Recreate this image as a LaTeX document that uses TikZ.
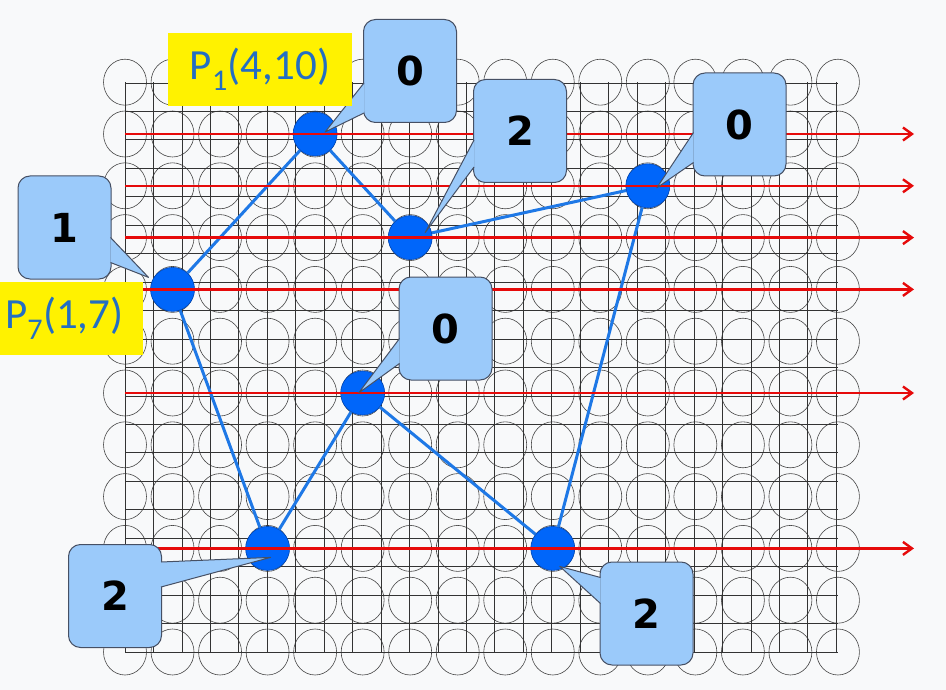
\documentclass[tikz,border=0pt]{standalone}
\usepackage{fontspec}
\setmainfont{Carlito}
\newfontfamily\tagfont{DejaVu Sans}
\usetikzlibrary{arrows.meta,calc}
\definecolor{bgpaper}{RGB}{248,249,250}
\definecolor{cellgray}{RGB}{70,70,70}
\definecolor{dotblue}{RGB}{0,102,250}
\definecolor{dotrim}{RGB}{0,70,180}
\definecolor{edgeblue}{RGB}{30,120,230}
\definecolor{scanred}{RGB}{230,10,10}
\definecolor{tagblue}{RGB}{155,202,250}
\definecolor{tagrim}{RGB}{70,80,100}
\definecolor{labelblue}{RGB}{35,110,195}
\tikzset{
  cell/.style={
    draw=cellgray,
    line width=0.6pt
  },
  gridline/.style={
    draw=black!80,
    line width=0.8pt
  },
  vertex/.style={
    circle,
    fill=dotblue,
    draw=dotrim,
    line width=0.6pt,
    minimum size=44pt,
    inner sep=0pt
  },
  polyedge/.style={draw=edgeblue, line width=3pt},
  scan/.style={draw=scanred, line width=2.4pt, -{Straight Barb[length=9pt,width=13pt]}},
  tag/.style={
    draw=tagrim,
    fill=tagblue,
    line width=1pt,
    rounded corners=12pt,
    minimum width=93pt,
    minimum height=103pt,
    inner sep=0pt,
    font=\tagfont\bfseries\fontsize{40}{44}\selectfont
  },
  wedge/.style={draw=tagrim, fill=tagblue, line width=1pt, line join=round},
  plabel/.style={
    fill=yellow,
    text=labelblue,
    minimum height=73pt,
    inner sep=0pt,
    font=\fontsize{43}{47}\selectfont
  }
}

\begin{document}
\begin{tikzpicture}[x=1pt, y=-1pt]

\fill[bgpaper] (0,0) rectangle (946,690);
\useasboundingbox (0,0) rectangle (946,690);

% pixel grid, polygon and scan lines
\begin{scope}[shift={(125pt,-652pt)}, x=47.53pt, y=51.8pt]
  \foreach \i in {0,...,15}
    \foreach \j in {0,...,11}
      \draw[cell] (\i,\j) circle [x radius=0.452, y radius=0.444];
  \draw[gridline] (0,0) grid (15,11);

  \node[vertex] (p1) at (4,10) {};
  \node[vertex] (p2) at (6,8) {};
  \node[vertex] (p3) at (11,9) {};
  \node[vertex] (p4) at (9,2) {};
  \node[vertex] (p5) at (5,5) {};
  \node[vertex] (p6) at (3,2) {};
  \node[vertex] (p7) at (1,7) {};

  \draw[polyedge] (p1) -- (p2) -- (p3) -- (p4) -- (p5) -- (p6) -- (p7) -- (p1);

  \foreach \y in {10,9,8,7,5,2}
    \draw[scan] (0,\y) -- (16.6,\y);
\end{scope}

% callouts
\node[tag] (t1) at (410,71) {0};
\draw[wedge] ($(t1.west)+(1,12)$) -- ($(p1)+(10,-2)$) -- ($(t1.west)+(1,42)$);

\node[tag] (t2) at (520,131) {2};
\draw[wedge] ($(t2.west)+(1,9)$) -- ($(p2)+(15,-5)$) -- ($(t2.west)+(1,36)$);

\node[tag] (t3) at (739.5,124.5) {0};
\draw[wedge] ($(t3.west)+(1,8)$) -- ($(p3)+(9,2)$) -- ($(t3.west)+(1,38)$);

\node[tag] (t7) at (64.5,227.5) {1};
\draw[wedge] ($(t7.east)+(-1,10)$) -- ($(p7)+(-24,-12)$) -- ($(t7.east)+(-1,35)$);

\node[tag] (t5) at (445.5,328.5) {0};
\draw[wedge] ($(t5.west)+(1,10)$) -- ($(p5)+(-4,0)$) -- ($(t5.west)+(1,35)$);

\node[tag] (t6) at (115,596) {2};
\draw[wedge] ($(t6.east)+(-1,-34)$) -- ($(p6)+(3,9)$) -- ($(t6.east)+(-1,-9)$);

\node[tag] (t4) at (646.5,613.5) {2};
\draw[wedge] ($(t4.west)+(1,-36)$) -- ($(p4)+(7,18)$) -- ($(t4.west)+(1,-10)$);

% point labels
\node[plabel, minimum width=184pt] (l1) at (260,69.5) {P\textsubscript{1}(4,10)};
\node[plabel, anchor=west, inner xsep=5pt, text width=133pt, align=left] (l7) at (0,318.5) {P\textsubscript{7}(1,7)};

\end{tikzpicture}
\end{document}
